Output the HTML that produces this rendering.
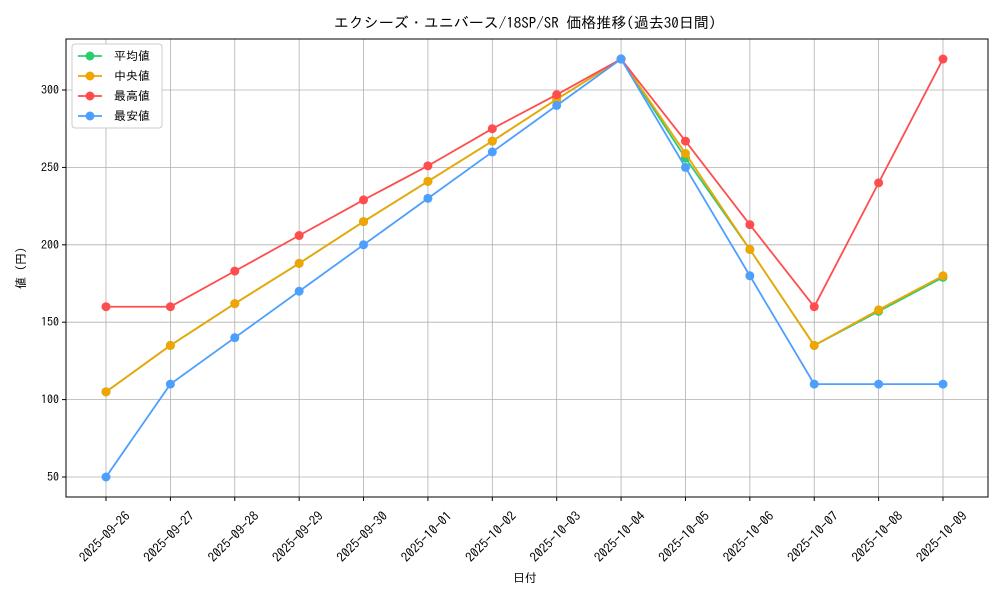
<!DOCTYPE html>
<html><head><meta charset="utf-8"><style>
body{margin:0;background:#fff;}
svg text{font-family:"IPAGothic","Liberation Sans","Noto Sans CJK JP",sans-serif;fill:#000;}
</style></head><body>
<svg id="chart" width="1000" height="600" xmlns="http://www.w3.org/2000/svg">
<text x="525" y="28" font-size="15" text-anchor="middle">エクシーズ・ユニバース/18SP/SR 価格推移(過去30日間)</text>
<g id="grid"></g><g id="axes"></g><g id="series"></g><g id="legend"></g>
<text x="525" y="582" font-size="12" text-anchor="middle">日付</text>
<text transform="translate(25,268) rotate(-90)" font-size="12" text-anchor="middle">値 (円)</text>
</svg>
<script>
const dates=["2025-09-26","2025-09-27","2025-09-28","2025-09-29","2025-09-30","2025-10-01","2025-10-02","2025-10-03","2025-10-04","2025-10-05","2025-10-06","2025-10-07","2025-10-08","2025-10-09"];
const meanVals=[105,135,162,188,215,241,267,294,320,256,197,135,157,179];
const medianVals=[105,135,162,188,215,241,267,294,320,259,197,135,158,180];
const maxVals=[160,160,183,206,229,251,275,297,320,267,213,160,240,320];
const minVals=[50,110,140,170,200,230,260,290,320,250,180,110,110,110];
const yTicks=[50,100,150,200,250,300];
const seriesNames=["平均値","中央値","最高値","最安値"];
const NS="http://www.w3.org/2000/svg";
const L=66,R=988,T=39,B=497;
const x=i=>106+i*(943-106)/(dates.length-1);
const y=v=>477-(v-50)*(477-90)/250;
function mk(tag,attrs,parent){const e=document.createElementNS(NS,tag);for(const k in attrs)e.setAttribute(k,attrs[k]);parent.appendChild(e);return e;}
const grid=document.getElementById('grid'),axes=document.getElementById('axes'),ser=document.getElementById('series'),leg=document.getElementById('legend');
dates.forEach((d,i)=>{
 const g=mk('line',{x1:x(i),x2:x(i),y1:T,y2:B,stroke:'#b0b0b0','stroke-width':0.8},grid);
 
 
 const tk=mk('line',{x1:x(i),x2:x(i),y1:B,y2:B+4,stroke:'#000'},axes);
 
 
 const t=mk('text',{x:0,y:4,'font-size':13,'text-anchor':'middle',transform:`translate(${x(i)-1},537) rotate(-45)`},axes);
 t.textContent=d;
 
 
});
yTicks.forEach(v=>{
 const g=mk('line',{x1:L,x2:R,y1:y(v),y2:y(v),stroke:'#b0b0b0','stroke-width':0.8},grid);
 
 
 const tk=mk('line',{x1:L-4,x2:L,y1:y(v),y2:y(v),stroke:'#000'},axes);
 
 
 const t=mk('text',{x:L-7,y:y(v)+4,'font-size':12,'text-anchor':'end'},axes);
 t.textContent=v;
 
 
});
const frame=mk('rect',{x:L,y:T,width:R-L,height:B-T,fill:'none',stroke:'#000','stroke-width':1},axes);


const all=[[meanVals,'#2ecc71','mean'],[medianVals,'#f0a500','median'],[maxVals,'#ff4d4d','max'],[minVals,'#4d9fff','min']];
all.forEach(([vals,c,n])=>{
 const g=mk('g',{},ser);
 
 
 const p=mk('polyline',{points:vals.map((v,i)=>x(i)+','+y(v)).join(' '),fill:'none',stroke:c,'stroke-width':1.8},g);
 
 
 vals.forEach((v,i)=>{
  const m=mk('circle',{cx:x(i),cy:y(v),r:4.5,fill:c},g);
  
  
 });
});
const box=mk('rect',{x:72,y:44,width:90,height:84,fill:'#fff',stroke:'#ccc',rx:3},leg);


seriesNames.forEach((s,i)=>{
 const yy=56+i*20,c=all[i][1];
 const g=mk('g',{},leg);
 
 
 mk('line',{x1:78,x2:102,y1:yy,y2:yy,stroke:c,'stroke-width':1.8},g);
 mk('circle',{cx:90,cy:yy,r:4.5,fill:c},g);
 const t=mk('text',{x:114,y:yy+4,'font-size':12},g);
 t.textContent=s;
});
</script>
</body></html>
